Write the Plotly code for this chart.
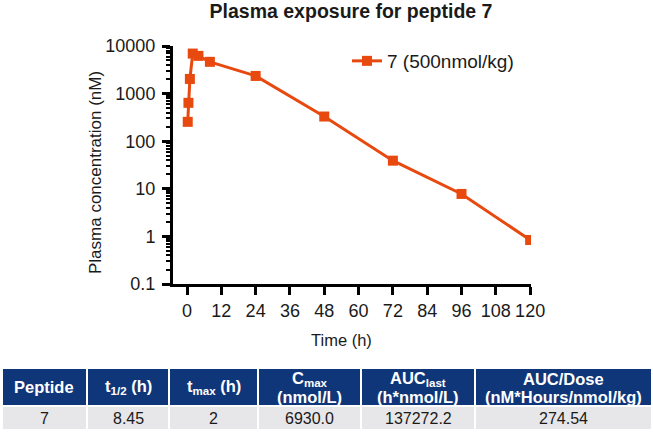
import plotly.graph_objects as go

time_h = [0.25, 0.5, 1, 2, 4, 8, 24, 48, 72, 96, 120]
conc_nM = [255, 640, 2030, 6930, 6200, 4650, 2350, 330, 39, 7.8, 0.84]
series_name = "7 (500nmol/kg)"

x_ticks = [0, 12, 24, 36, 48, 60, 72, 84, 96, 108, 120]
y_tickvals = [0.1, 1, 10, 100, 1000, 10000]
y_ticktext = ["0.1", "1", "10", "100", "1000", "10000"]

tbl_header = ["Peptide", "t<sub>1/2</sub> (h)", "t<sub>max</sub> (h)",
              "C<sub>max</sub><br>(nmol/L)", "AUC<sub>last</sub><br>(h*nmol/L)",
              "AUC/Dose<br>(nM*Hours/nmol/kg)"]
tbl_row = ["7", "8.45", "2", "6930.0", "137272.2", "274.54"]

W, H = 653, 433


def px(x):
    return x / W


def py(y):
    return 1 - y / H


color = "#E8490F"
navy = "#10367A"
grey = "#E7E7E9"
font = "Liberation Sans, Arial, sans-serif"
txt = "#1a1a1a"

fig = go.Figure()
fig.add_trace(go.Scatter(
    x=time_h, y=conc_nM, mode="lines+markers", name=series_name,
    line=dict(color=color, width=3),
    marker=dict(symbol="square", size=10, color=color),
))

# ---- table drawn with shapes + annotations ----
col_edges = [2, 87, 169, 258, 361, 475, 652]
hdr_top, hdr_bot, row_bot = 368, 406, 430
shapes = []
annotations = []
for i in range(len(tbl_header)):
    xl, xr = col_edges[i], col_edges[i + 1]
    shapes.append(dict(type="rect", xref="paper", yref="paper",
                       x0=px(xl), x1=px(xr), y0=py(hdr_bot), y1=py(hdr_top),
                       fillcolor=navy, line=dict(color="white", width=2), layer="below"))
    shapes.append(dict(type="rect", xref="paper", yref="paper",
                       x0=px(xl), x1=px(xr), y0=py(row_bot), y1=py(hdr_bot),
                       fillcolor=grey, line=dict(color="white", width=2), layer="below"))
    xc = px((xl + xr) / 2)
    lines = tbl_header[i].split("<br>")
    if len(lines) == 1:
        ys = [(hdr_top + hdr_bot) / 2]
    else:
        ys = [379, 397]
    for ln, yy in zip(lines, ys):
        annotations.append(dict(text="<b>" + ln + "</b>", x=xc, y=py(yy),
                                xref="paper", yref="paper", showarrow=False, xanchor="center", yanchor="middle",
                                font=dict(family=font, size=16.5, color="white")))
    annotations.append(dict(text=tbl_row[i], x=xc, y=py((hdr_bot + row_bot) / 2),
                            xref="paper", yref="paper", showarrow=False, xanchor="center", yanchor="middle",
                            font=dict(family=font, size=16, color=txt)))

# axis titles
annotations.append(dict(text="Plasma concentration (nM)", x=px(95), y=py(173), xref="paper", yref="paper",
                        showarrow=False, textangle=-90, xanchor="center", yanchor="middle",
                        font=dict(family=font, size=17, color=txt)))
annotations.append(dict(text="Time (h)", x=px(341), y=py(340), xref="paper", yref="paper",
                        showarrow=False, xanchor="center", yanchor="middle",
                        font=dict(family=font, size=16.5, color=txt)))

fig.update_layout(
    width=W, height=H,
    margin=dict(l=0, r=0, t=0, b=0, autoexpand=False),
    paper_bgcolor="white", plot_bgcolor="white",
    font=dict(family=font, color=txt),
    title=dict(text="<b>Plasma exposure for peptide 7</b>", x=px(351), xanchor="center",
               y=py(11), yanchor="middle", font=dict(size=19.5, color=txt)),
    showlegend=True,
    legend=dict(x=px(347), y=py(42), xanchor="left", yanchor="top",
                font=dict(size=19, color=txt), bgcolor="rgba(0,0,0,0)", itemwidth=30),
    shapes=shapes,
    annotations=annotations,
    xaxis=dict(
        domain=[px(173), px(531)], range=[-4.9, 120.3], tickvals=x_ticks, automargin=False,
        showline=True, linecolor="black", linewidth=3, ticks="outside", ticklen=8,
        tickwidth=2.5, tickcolor="black", showgrid=False, zeroline=False,
        tickfont=dict(size=18, color=txt),
    ),
    yaxis=dict(
        domain=[py(284), py(46)], type="log", range=[-1, 4], automargin=False,
        tickvals=y_tickvals, ticktext=y_ticktext,
        showline=True, linecolor="black", linewidth=3, ticks="outside", ticklen=8,
        tickwidth=2.5, tickcolor="black", showgrid=False, zeroline=False,
        tickfont=dict(size=18, color=txt), ticklabelstandoff=3,
        minor=dict(ticks="outside", ticklen=4, tickwidth=1.5, tickcolor="black", dtick="D1", showgrid=False),
    ),
)

fig.write_html("out.html", config={"displayModeBar": False},
               post_script="document.body.style.margin='0';")
